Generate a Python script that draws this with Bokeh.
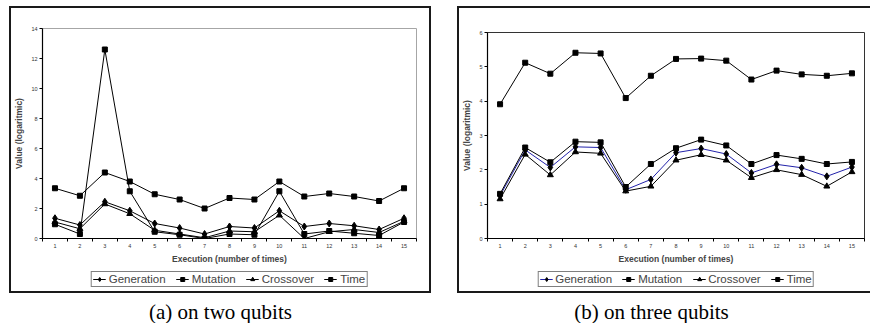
from bokeh.plotting import figure
from bokeh.models import Range1d, FixedTicker, Legend, LegendItem, Spacer
from bokeh.layouts import row, column
from bokeh.embed import file_html
from bokeh.resources import INLINE
from bokeh.core.properties import value

executions = list(range(1, 16))
series_names = ["Generation", "Mutation", "Crossover", "Time"]

# (a) on two qubits
a_generation = [1.35, 0.9, 2.45, 1.85, 1.0, 0.7, 0.3, 0.8, 0.7, 1.85, 0.8, 1.0, 0.85, 0.6, 1.35]
a_mutation = [0.95, 0.3, 12.6, 3.15, 0.45, 0.25, 0.0, 0.3, 0.25, 3.15, 0.3, 0.5, 0.35, 0.2, 1.1]
a_crossover = [1.1, 0.65, 2.3, 1.65, 0.55, 0.3, 0.05, 0.5, 0.45, 1.55, 0.0, 0.45, 0.6, 0.4, 1.15]
a_time = [3.35, 2.85, 4.4, 3.8, 2.95, 2.6, 2.0, 2.7, 2.6, 3.8, 2.8, 3.0, 2.8, 2.5, 3.35]
a_yticks = [0, 2, 4, 6, 8, 10, 12, 14]

# (b) on three qubits
b_generation = [1.25, 2.58, 2.07, 2.67, 2.65, 1.42, 1.72, 2.5, 2.62, 2.46, 1.91, 2.16, 2.06, 1.81, 2.08]
b_mutation = [1.3, 2.65, 2.22, 2.82, 2.8, 1.5, 2.17, 2.63, 2.88, 2.71, 2.17, 2.43, 2.32, 2.17, 2.23]
b_crossover = [1.15, 2.45, 1.85, 2.52, 2.48, 1.38, 1.52, 2.28, 2.44, 2.28, 1.77, 2.0, 1.86, 1.52, 1.94]
b_time = [3.91, 5.12, 4.8, 5.41, 5.39, 4.09, 4.74, 5.23, 5.24, 5.18, 4.63, 4.89, 4.78, 4.74, 4.81]
b_yticks = [0, 1, 2, 3, 4, 5, 6]

captions = ["(a) on two qubits", "(b) on three qubits"]

SANS = "Liberation Sans"
SERIF = "Liberation Serif"
MARKERS = ["diamond", "square", "triangle", "square"]
MSIZES = [7, 5, 6, 5]


def style_common(p):
    p.xgrid.visible = False
    p.ygrid.visible = False
    p.background_fill_color = "white"
    p.border_fill_color = "white"


def make_chart(series, yticks, width, height, borders, outline_color, colors):
    p = figure(width=width, height=height, toolbar_location=None, output_backend="svg",
               x_range=Range1d(executions[0] - 0.5, executions[-1] + 0.5),
               y_range=Range1d(yticks[0], yticks[-1]),
               min_border_left=borders[0], min_border_right=borders[1],
               min_border_top=borders[2], min_border_bottom=borders[3])
    style_common(p)
    p.outline_line_color = outline_color
    p.outline_line_width = 1

    xa = p.xaxis[0]
    xa.ticker = FixedTicker(ticks=executions,
                            minor_ticks=[e - 0.5 for e in executions] + [executions[-1] + 0.5])
    xa.major_tick_out = 0
    xa.major_tick_in = 0
    xa.minor_tick_out = 3
    xa.minor_tick_in = 0
    xa.minor_tick_line_color = "black"
    xa.major_label_text_font = SANS
    xa.major_label_text_font_size = "5.5px"
    xa.major_label_text_color = "#333333"
    xa.major_label_standoff = 2
    xa.axis_label = "Execution (number of times)"
    xa.axis_label_text_font = SANS
    xa.axis_label_text_font_style = "bold"
    xa.axis_label_text_font_size = "8.5px"
    xa.axis_label_standoff = 3
    xa.axis_line_color = "black"
    xa.axis_line_width = 1.2

    ya = p.yaxis[0]
    ya.ticker = FixedTicker(ticks=yticks)
    ya.major_tick_out = 3
    ya.major_tick_in = 0
    ya.minor_tick_out = 0
    ya.minor_tick_in = 0
    ya.major_label_text_font = SANS
    ya.major_label_text_font_size = "5.5px"
    ya.major_label_text_color = "#333333"
    ya.major_label_standoff = 2
    ya.axis_label = "Value (logaritmic)"
    ya.axis_label_text_font = SANS
    ya.axis_label_text_font_style = "bold"
    ya.axis_label_text_font_size = "8.5px"
    ya.axis_label_standoff = 4
    ya.axis_line_color = "black"
    ya.axis_line_width = 1.2

    for ys, mk, ms, col in zip(series, MARKERS, MSIZES, colors):
        p.line(executions, ys, line_color=col, line_width=1)
        p.scatter(executions, ys, marker=mk, size=ms, fill_color="black", line_color="black")
    return p


def make_legend_fig(series, width, height, borders, colors):
    # legend strip: same series, drawn in a y window that holds none of them,
    # so only the legend entries show
    p = figure(width=width, height=height, toolbar_location=None, output_backend="svg",
               x_range=Range1d(executions[0] - 0.5, executions[-1] + 0.5),
               y_range=Range1d(-2, -1),
               x_axis_location=None, y_axis_location=None,
               min_border_left=borders[0], min_border_right=borders[1],
               min_border_top=0, min_border_bottom=0)
    style_common(p)
    p.outline_line_color = None
    items = []
    for name, ys, mk, ms, col in zip(series_names, series, MARKERS, MSIZES, colors):
        lr = p.line(executions, ys, line_color=col, line_width=1)
        sr = p.scatter(executions, ys, marker=mk, size=ms, fill_color="black", line_color="black")
        items.append(LegendItem(label=name, renderers=[lr, sr]))
    legend = Legend(items=items, orientation="horizontal", location="center",
                    label_text_font=SANS, label_text_font_size="11.5px",
                    glyph_width=13, glyph_height=10, label_height=10, label_standoff=3,
                    spacing=10, padding=1, margin=0,
                    border_line_color="black", border_line_width=1,
                    background_fill_color="white", background_fill_alpha=1)
    p.add_layout(legend, "center")
    return p


def make_caption(text, width):
    c = figure(width=width, height=30, toolbar_location=None, output_backend="svg",
               x_range=Range1d(0, 1), y_range=Range1d(0, 1),
               x_axis_location=None, y_axis_location=None, min_border=0)
    style_common(c)
    c.outline_line_color = None
    c.text(x=[0.5], y=[0.4], text=[text], text_align="center", text_baseline="middle",
           text_font=value(SERIF), text_font_size="21px", text_color="black")
    return c


a_colors = ["black", "black", "black", "black"]
b_colors = ["#2222aa", "black", "black", "black"]
a_series = [a_generation, a_mutation, a_crossover, a_time]
b_series = [b_generation, b_mutation, b_crossover, b_time]

pa = make_chart(a_series, a_yticks, 418, 258, (28, 13, 20, 26), "#a6a6a6", a_colors)
la = make_legend_fig(a_series, 418, 25, (19, 13), a_colors)
pb = make_chart(b_series, b_yticks, 411, 258, (28, 6, 24, 25), "#333333", b_colors)
lb = make_legend_fig(b_series, 411, 25, (28, 6), b_colors)

wa = column(pa, la, styles={"border": "2px solid #1a1a1a"})
wb = column(pb, lb, styles={"border-left": "2px solid #1a1a1a",
                            "border-top": "2px solid #1a1a1a",
                            "border-bottom": "2px solid #1a1a1a"})

ca = make_caption(captions[0], 422)
cb = make_caption(captions[1], 388)

layout = column(Spacer(height=6),
                row(Spacer(width=9), column(wa, ca), Spacer(width=26), column(wb, cb)))

open("out.html", "w").write(file_html(layout, INLINE))
